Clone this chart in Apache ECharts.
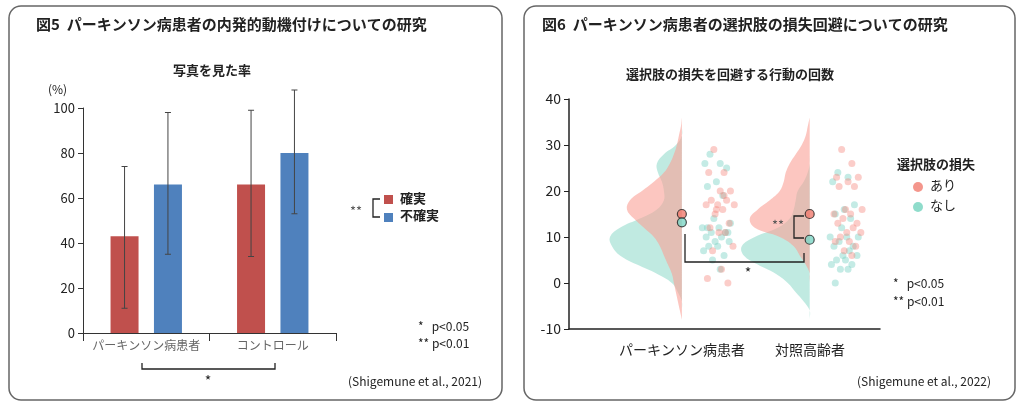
<!DOCTYPE html>
<html><head><meta charset="utf-8">
<script src="https://cdn.jsdelivr.net/npm/echarts@6/dist/echarts.min.js"></script>
<style>html,body{margin:0;background:#fff}#c{width:1024px;height:410px}</style>
</head><body><div id="c"></div>
<script>
// 図5
var groups = ['パーキンソン病患者', 'コントロール'];
var sureVals = [43, 66];
var unsureVals = [66, 80];
var sureErr = [[11, 74], [34, 99]];
var unsureErr = [[35, 98], [53, 108]];

// 図6  density widths (px-ish, /128 -> x units) on y levels -8..36 step 2
var yLevels = [-8,-6,-4,-2,0,2,4,6,8,10,12,14,16,18,20,22,24,26,28,30,32,34,36];
var pdLossDen   = [0,2,4,6,8,10,14,18,22,28,38,48,55,52,40,28,18,12,8,5,3,1,0];
var pdNoDen     = [0,0,0,4,10,25,45,62,70,72,62,42,25,18,18,20,24,25,18,6,0,0,0];
var ctLossDen   = [0,0,0,0,0,0,4,10,16,30,55,60,52,40,30,26,24,20,14,8,4,2,0];
var ctNoDen     = [0,0,6,14,22,34,52,66,68,55,32,20,16,14,12,6,2,0,0,0,0,0,0];
var means = {pdLoss: 15, pdNo: 13.2, ctLoss: 15, ctNo: 9.4};
var pdLossPts = [29,24,24,20,20,18,18,17,17,17,16,15,13,12,11,11,8,7,3,1,0,16,19];
var pdNoPts   = [28,26,26,25,22,21,19,14,13,12,12,11,11,10,10,9,9,8,8,7,6,5,3,12,11];
var ctLossPts = [29,26,23,23,22,21,21,16,16,15,15,14,13,13,12,11,11,10,9,9,8,7,6];
var ctNoPts   = [24,23,22,17,16,15,14,12,10,10,10,9,8,8,7,6,6,5,5,4,4,3,3,0];
var jitter = [0.22,0.3,0.18,0.35,0.27,0.2,0.32,0.25,0.38,0.16,0.29,0.23,0.34,0.19,0.31,0.26,0.37,0.21,0.28,0.17,0.33,0.24,0.3,0.2,0.36];

var RED = 'rgba(250,160,150,0.6)', TEAL = 'rgba(150,220,205,0.6)';
var font = '"Noto Sans CJK JP", sans-serif';

function pts(arr, x0) { return arr.map(function (y, i) { return [x0 + jitter[i % jitter.length], y]; }); }

function violin(name, x0, den, color) {
  return {
    type: 'custom', xAxisIndex: 1, yAxisIndex: 1, data: [[x0, 0]], silent: true, z: 1,
    renderItem: function (params, api) {
      var p = [];
      for (var i = 0; i < yLevels.length; i++) p.push(api.coord([x0 - den[i] / 128, yLevels[i]]));
      for (var j = yLevels.length - 1; j >= 0; j--) p.push(api.coord([x0, yLevels[j]]));
      return {type: 'polygon', shape: {points: p, smooth: 0.4}, style: {fill: color}};
    }
  };
}

function errBars(vals, off) {
  return {
    type: 'custom', xAxisIndex: 0, yAxisIndex: 0, z: 5, clip: false,
    data: vals.map(function (v, i) { return [i, v[0], v[1]]; }),
    renderItem: function (params, api) {
      var c = api.coord([api.value(0), 0]);
      var x = c[0] + off;
      var a = api.coord([api.value(0), api.value(1)]), b = api.coord([api.value(0), api.value(2)]);
      return {type: 'group', children: [
        {type: 'line', shape: {x1: x, y1: a[1], x2: x, y2: b[1]}, style: {stroke: '#444', lineWidth: 1}},
        {type: 'line', shape: {x1: x - 3, y1: a[1], x2: x + 3, y2: a[1]}, style: {stroke: '#444', lineWidth: 1}},
        {type: 'line', shape: {x1: x - 3, y1: b[1], x2: x + 3, y2: b[1]}, style: {stroke: '#444', lineWidth: 1}}
      ]};
    }
  };
}

function txt(x, y, s, size, extra) {
  var st = {x: x, y: y, text: s, font: (extra && extra.bold ? 'bold ' : '') + size + 'px ' + font, fill: (extra && extra.fill) || '#222'};
  if (extra && extra.align) st.align = extra.align;
  return {type: 'text', style: st, z: 10};
}
function ln(pointsArr) { return {type: 'polyline', shape: {points: pointsArr}, style: {stroke: '#222', lineWidth: 1.3, fill: null}, z: 10}; }

var chart = echarts.init(document.getElementById('c'));
chart.setOption({
  animation: false,
  textStyle: {fontFamily: font},
  grid: [
    {left: 83, right: 688, top: 108, bottom: 77},
    {left: 569, right: 144, top: 99, bottom: 81}
  ],
  xAxis: [
    {type: 'category', gridIndex: 0, data: groups,
      axisLine: {lineStyle: {color: '#333'}}, axisTick: {show: true, length: 8, lineStyle: {color: '#333'}},
      axisLabel: {color: '#666', fontSize: 12, margin: 6, interval: 0}},
    {type: 'value', gridIndex: 1, min: -0.883, max: 1.55,
      axisLine: {onZero: false, lineStyle: {color: '#222', width: 1.5}}, axisTick: {show: false}, axisLabel: {show: false}, splitLine: {show: false}}
  ],
  yAxis: [
    {type: 'value', gridIndex: 0, min: 0, max: 100, interval: 20,
      axisLine: {show: true, lineStyle: {color: '#333'}}, axisTick: {show: true, lineStyle: {color: '#333'}},
      axisLabel: {color: '#222', fontSize: 13}, splitLine: {show: false}},
    {type: 'value', gridIndex: 1, min: -10, max: 40, interval: 10,
      axisLine: {show: true, onZero: false, lineStyle: {color: '#222', width: 1.5}}, axisTick: {show: true, lineStyle: {color: '#222'}},
      axisLabel: {color: '#222', fontSize: 14}, splitLine: {show: false}}
  ],
  series: [
    {type: 'bar', xAxisIndex: 0, yAxisIndex: 0, data: sureVals, barWidth: 28, barGap: '55%', itemStyle: {color: '#c0504d'}},
    {type: 'bar', xAxisIndex: 0, yAxisIndex: 0, data: unsureVals, barWidth: 28, itemStyle: {color: '#4f81bd'}},
    errBars(sureErr, -21.7),
    errBars(unsureErr, 21.7),
    violin('pdNo', 0, pdNoDen, TEAL),
    violin('pdLoss', 0, pdLossDen, RED),
    violin('ctNo', 1, ctNoDen, TEAL),
    violin('ctLoss', 1, ctLossDen, RED),
    {type: 'scatter', xAxisIndex: 1, yAxisIndex: 1, symbolSize: 7, itemStyle: {color: 'rgba(120,210,195,0.55)'}, data: pts(pdNoPts, 0).concat(pts(ctNoPts, 1)), z: 3},
    {type: 'scatter', xAxisIndex: 1, yAxisIndex: 1, symbolSize: 7, itemStyle: {color: 'rgba(245,130,120,0.5)'}, data: pts(pdLossPts, 0.03).concat(pts(ctLossPts, 1.03)), z: 3},
    {type: 'scatter', xAxisIndex: 1, yAxisIndex: 1, symbolSize: 9, z: 6,
      itemStyle: {color: '#f07a6e', borderColor: '#222', borderWidth: 1.2}, data: [[0, means.pdLoss], [1, means.ctLoss]]},
    {type: 'scatter', xAxisIndex: 1, yAxisIndex: 1, symbolSize: 9, z: 6,
      itemStyle: {color: '#7dd6c6', borderColor: '#222', borderWidth: 1.2}, data: [[0, means.pdNo], [1, means.ctNo]]}
  ],
  graphic: [
    {type: 'rect', shape: {x: 9, y: 6, width: 493, height: 394, r: 12}, style: {fill: null, stroke: '#666', lineWidth: 1.5}},
    {type: 'rect', shape: {x: 524, y: 6, width: 491, height: 394, r: 12}, style: {fill: null, stroke: '#666', lineWidth: 1.5}},
    txt(36, 17, '図5  パーキンソン病患者の内発的動機付けについての研究', 15, {bold: true}),
    txt(212, 64, '写真を見た率', 13, {bold: true, align: 'center'}),
    txt(48, 83, '(%)', 12),
    txt(350, 205, '**', 13, {fill: '#555'}),
    ln([[380, 199], [373, 199], [373, 217], [380, 217]]),
    {type: 'rect', shape: {x: 384, y: 195, width: 9, height: 9}, style: {fill: '#c0504d'}},
    {type: 'rect', shape: {x: 384, y: 213, width: 9, height: 9}, style: {fill: '#4f81bd'}},
    txt(400, 192, '確実', 13, {bold: true}),
    txt(400, 209, '不確実', 13, {bold: true}),
    ln([[142, 363], [142, 369], [275, 369], [275, 363]]),
    txt(208, 374, '*', 14, {align: 'center'}),
    txt(418, 320, '*   p<0.05', 12),
    txt(418, 337, '** p<0.01', 12),
    txt(348, 375, '(Shigemune et al., 2021)', 12),
    txt(542, 17, '図6  パーキンソン病患者の選択肢の損失回避についての研究', 15, {bold: true}),
    txt(730, 68, '選択肢の損失を回避する行動の回数', 13, {bold: true, align: 'center'}),
    ln([[685, 234], [685, 262], [804, 262], [804, 253]]),
    txt(748, 266, '*', 14, {align: 'center'}),
    ln([[804, 216], [794, 216], [794, 238], [804, 238]]),
    txt(772, 219, '**', 13, {fill: '#555'}),
    txt(897, 158, '選択肢の損失', 13, {bold: true}),
    {type: 'circle', shape: {cx: 918, cy: 187, r: 5}, style: {fill: '#f4968c'}},
    {type: 'circle', shape: {cx: 918, cy: 207, r: 5}, style: {fill: '#8fdccb'}},
    txt(930, 179, 'あり', 13),
    txt(930, 199, 'なし', 13),
    txt(893, 277, '*   p<0.05', 12),
    txt(893, 295, '** p<0.01', 12),
    txt(857, 375, '(Shigemune et al., 2022)', 12),
    txt(682, 343, 'パーキンソン病患者', 14, {align: 'center'}),
    txt(810, 343, '対照高齢者', 14, {align: 'center'})
  ]
});
</script>
</body></html>
